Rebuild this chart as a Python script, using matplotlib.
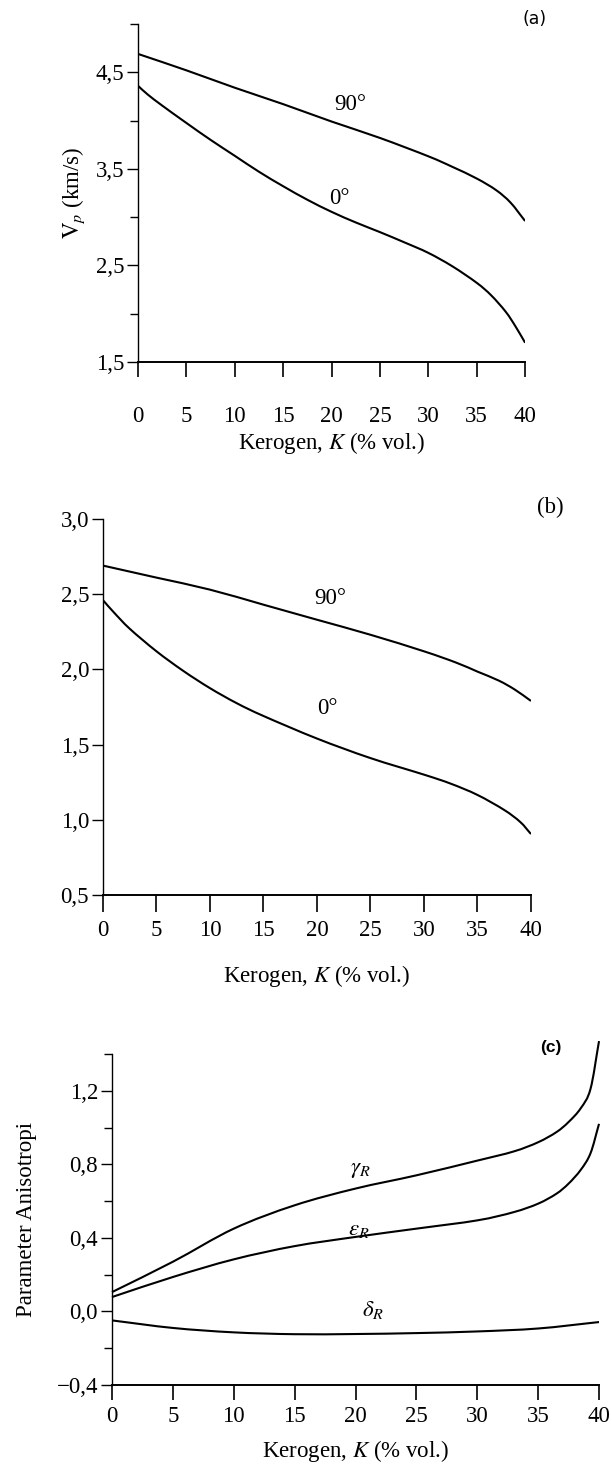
import matplotlib
matplotlib.use("Agg")
import matplotlib.pyplot as plt
import numpy as np
from matplotlib.path import Path
from matplotlib.patches import PathPatch
from matplotlib.ticker import FixedLocator

plt.rcParams["font.family"] = ["Liberation Serif", "DejaVu Serif"]
plt.rcParams["mathtext.fontset"] = "stix"

# (a) P-wave velocity vs kerogen content
k_vp90 = [0, 5, 10, 15, 20, 25, 30, 32.5, 35, 37, 38.5, 40]
vp90 = [4.69, 4.52, 4.34, 4.17, 3.99, 3.82, 3.63, 3.52, 3.40, 3.28, 3.15, 2.96]
k_vp0 = [0, 1, 2.5, 5, 7.5, 10, 12.5, 15, 17.5, 20, 22.5, 25, 27.5, 30, 32.5, 35, 36.5, 38, 39, 40]
vp0 = [4.36, 4.27, 4.155, 3.975, 3.80, 3.635, 3.47, 3.32, 3.18, 3.055, 2.945, 2.845, 2.74,
       2.63, 2.49, 2.32, 2.19, 2.02, 1.87, 1.70]

# (b) S-wave velocity
k_vs90 = [0, 5, 10, 15, 20, 25, 30, 33, 35, 37, 38.5, 40]
vs90 = [2.69, 2.61, 2.53, 2.43, 2.33, 2.23, 2.12, 2.045, 1.985, 1.925, 1.865, 1.79]
k_vs0 = [0, 1, 2.5, 5, 7.5, 10, 12.5, 15, 20, 25, 30, 32.5, 35, 37.5, 39, 40]
vs0 = [2.46, 2.38, 2.27, 2.12, 1.99, 1.875, 1.775, 1.69, 1.54, 1.41, 1.30, 1.24, 1.165,
       1.065, 0.985, 0.905]

# (c) anisotropy parameters
k_gam = [0, 5, 10, 15, 20, 25, 30, 33, 35, 36.5, 37.5, 38.5, 39.3, 40]
gamma_r = [0.105, 0.27, 0.45, 0.577, 0.668, 0.74, 0.82, 0.87, 0.92, 0.975, 1.03, 1.105, 1.21, 1.47]
k_eps = [0, 5, 10, 15, 20, 25, 30, 33, 35, 36.5, 37.5, 38.5, 39.3, 40]
eps_r = [0.078, 0.187, 0.283, 0.355, 0.405, 0.45, 0.495, 0.54, 0.586, 0.64, 0.695, 0.77, 0.86, 1.02]
k_del = [0, 5, 10, 15, 20, 25, 30, 35, 40]
delta_r = [-0.049, -0.09, -0.114, -0.124, -0.123, -0.118, -0.109, -0.093, -0.058]

x_ticks = [0, 5, 10, 15, 20, 25, 30, 35, 40]
a_yticks = [1.5, 2.5, 3.5, 4.5]
a_yminor = [2.0, 3.0, 4.0, 5.0]
a_ylabels = ["1,5", "2,5", "3,5", "4,5"]
b_yticks = [0.5, 1.0, 1.5, 2.0, 2.5, 3.0]
b_ylabels = ["0,5", "1,0", "1,5", "2,0", "2,5", "3,0"]
c_yticks = [-0.4, 0.0, 0.4, 0.8, 1.2]
c_yminor = [-0.2, 0.2, 0.6, 1.0, 1.4]
c_ylabels = ["\u22120,4", "0,0", "0,4", "0,8", "1,2"]

xlab = r"Kerogen, $K$ (% vol.)"
FS = 16.5
LW = 1.5

fig = plt.figure(figsize=(6.12, 14.71), dpi=100)


def smooth_curve(ax, xs, ys, clip=True):
    # catmull-rom through the read points, drawn as cubic bezier segments
    p = np.column_stack([xs, ys]).astype(float)
    ext = np.vstack([2 * p[0] - p[1], p, 2 * p[-1] - p[-2]])
    verts = [tuple(p[0])]
    codes = [Path.MOVETO]
    for i in range(1, len(ext) - 2):
        c1 = ext[i] + (ext[i + 1] - ext[i - 1]) / 6
        c2 = ext[i + 1] - (ext[i + 2] - ext[i]) / 6
        verts += [tuple(c1), tuple(c2), tuple(ext[i + 1])]
        codes += [Path.CURVE4] * 3
    patch = PathPatch(Path(verts, codes), fill=False, edgecolor="black",
                      lw=LW, capstyle="butt", clip_on=clip)
    ax.add_patch(patch)


def setup(ax, ylim, yt, ylab, yminor, xpad, xtick_len):
    ax.set_xlim(0, 40)
    ax.set_ylim(*ylim)
    for s in ["top", "right"]:
        ax.spines[s].set_visible(False)
    ax.spines["left"].set_linewidth(1.0)
    ax.spines["bottom"].set_linewidth(1.4)
    ax.set_xticks(x_ticks)
    ax.set_xticklabels([str(t) for t in x_ticks])
    ax.set_yticks(yt)
    ax.set_yticklabels(ylab)
    if yminor:
        ax.yaxis.set_minor_locator(FixedLocator(yminor))
    ax.tick_params(axis="x", direction="out", length=xtick_len, width=1.2,
                   pad=xpad, labelsize=FS)
    ax.tick_params(axis="y", which="major", direction="out", length=8, width=1.0,
                   pad=2, labelsize=FS)
    ax.tick_params(axis="y", which="minor", direction="out", length=6, width=1.0)


# ---- panel (a)
ax1 = fig.add_axes([0.2255, 0.7539, 0.6325, 0.2298])
smooth_curve(ax1, k_vp90, vp90)
smooth_curve(ax1, k_vp0, vp0)
setup(ax1, (1.5, 5.0), a_yticks, a_ylabels, a_yminor, 21, 11)
ax1.set_xlabel(xlab, fontsize=FS, labelpad=2)
ax1.set_ylabel(r"$\mathrm{V}_{p}$ (km/s)", fontsize=FS, labelpad=6)
ax1.text(21.9, 4.17, "90°", fontsize=FS, ha="center", va="center")
ax1.text(20.8, 3.19, "0°", fontsize=FS, ha="center", va="center")
fig.text(0.874, 0.987, "(a)", fontsize=12.5, family="Liberation Sans Narrow",
         ha="center", va="center")

# ---- panel (b)
ax2 = fig.add_axes([0.1683, 0.3916, 0.6993, 0.2556])
smooth_curve(ax2, k_vs90, vs90)
smooth_curve(ax2, k_vs0, vs0)
setup(ax2, (0.5, 3.0), b_yticks, b_ylabels, None, 6, 12)
ax2.set_xlabel(xlab, fontsize=FS, labelpad=16)
ax2.text(21.2, 2.47, "90°", fontsize=FS, ha="center", va="center")
ax2.text(21.0, 1.74, "0°", fontsize=FS, ha="center", va="center")
fig.text(0.899, 0.655, "(b)", fontsize=FS, ha="center", va="center")

# ---- panel (c)
ax3 = fig.add_axes([0.183, 0.0585, 0.7958, 0.225])
smooth_curve(ax3, k_gam, gamma_r, clip=False)
smooth_curve(ax3, k_eps, eps_r, clip=False)
smooth_curve(ax3, k_del, delta_r)
setup(ax3, (-0.4, 1.4), c_yticks, c_ylabels, c_yminor, 4, 11)
ax3.set_xlabel(xlab, fontsize=FS, labelpad=8)
ax3.set_ylabel("Parameter Anisotropi", fontsize=FS, labelpad=0)
ax3.yaxis.set_label_coords(-0.155, 0.5)
ax3.text(20.4, 0.77, r"$\gamma_{R}$", fontsize=FS, ha="center", va="center")
ax3.text(20.3, 0.445, r"$\varepsilon_{R}$", fontsize=FS, ha="center", va="center")
ax3.text(21.4, 0.005, r"$\delta_{R}$", fontsize=FS, ha="center", va="center")
fig.text(0.9, 0.288, "(c)", fontsize=12.5, family="Liberation Sans",
         weight="bold", ha="center", va="center")

fig.savefig("out.png", dpi=100)
